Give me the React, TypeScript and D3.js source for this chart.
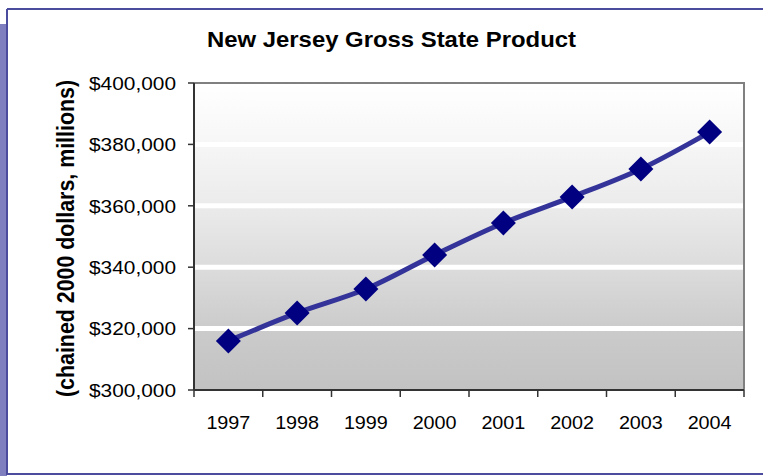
import React from "react";
import * as d3 from "d3";

const years = ["1997", "1998", "1999", "2000", "2001", "2002", "2003", "2004"];
const gsp = [316000, 325100, 332900, 344000, 354400, 362900, 372000, 384000];
const yTicks = [300000, 320000, 340000, 360000, 380000, 400000];
const gridValues = [320000, 340000, 360000, 380000];
const title = "New Jersey Gross State Product";
const yLabel = "(chained 2000 dollars, millions)";

export default function App() {
  const W = 763, H = 476;
  const left = 194, right = 744, top = 83, bottom = 390;
  const x = d3.scaleBand<string>().domain(years).range([left, right]);
  const y = d3.scaleLinear().domain([300000, 400000]).range([bottom, top]);
  const fmt = (v: number) => "$" + d3.format(",")(v);
  const pts = years.map((yr, i) => [x(yr)! + x.bandwidth() / 2, y(gsp[i])] as [number, number]);
  const line = d3.line().curve(d3.curveCatmullRom.alpha(0.5))(pts) || "";
  const font = "'Liberation Sans', Arimo, sans-serif";
  const boundaries = years.map((yr) => x(yr)!).concat([right]);

  return (
    <svg width={W} height={H} style={{ position: "absolute", left: 0, top: 0 }} fontFamily={font}>
      <defs>
        <linearGradient id="bg" x1="0" y1="0" x2="0" y2="1">
          <stop offset="0" stopColor="#ffffff" />
          <stop offset="0.2" stopColor="#f6f6f6" />
          <stop offset="0.4" stopColor="#ebebeb" />
          <stop offset="0.6" stopColor="#dcdcdc" />
          <stop offset="0.8" stopColor="#cbcbcb" />
          <stop offset="1" stopColor="#c2c2c2" />
        </linearGradient>
      </defs>
      <rect x={0} y={0} width={W} height={H} fill="#ffffff" />
      <rect x={0} y={24} width={7} height={H - 24} fill="#7f7fbf" />
      <path d={`M7,9 H${W} M7,9 V474 H${W}`} fill="none" stroke="#4c4c9e" strokeWidth={2} />

      <text x={207} y={47} fontSize={22} fontWeight="bold" textLength={369} lengthAdjust="spacingAndGlyphs" fill="#000">{title}</text>

      <rect x={left} y={top} width={right - left} height={bottom - top} fill="url(#bg)" />
      {gridValues.map((v) => (
        <line key={v} x1={left} x2={right} y1={y(v)} y2={y(v)} stroke="#ffffff" strokeWidth={5} />
      ))}
      <path d={`M${left},${top} H${right} V${bottom}`} fill="none" stroke="#808080" strokeWidth={2} />
      <line x1={left} x2={left} y1={top} y2={bottom} stroke="#333333" strokeWidth={2} />
      <line x1={left} x2={right} y1={bottom} y2={bottom} stroke="#333333" strokeWidth={2} />
      {yTicks.map((v) => (
        <g key={v}>
          <line x1={left - 6} x2={left} y1={y(v)} y2={y(v)} stroke="#333333" strokeWidth={1.5} />
          <text x={176} y={y(v) + 6.8} fontSize={19} textAnchor="end" textLength={87} lengthAdjust="spacingAndGlyphs" fill="#000">{fmt(v)}</text>
        </g>
      ))}
      {boundaries.map((bx, i) => (
        <line key={i} x1={bx} x2={bx} y1={bottom} y2={bottom + 7} stroke="#333333" strokeWidth={1.5} />
      ))}
      {years.map((yr) => (
        <text key={yr} x={x(yr)! + x.bandwidth() / 2} y={429} fontSize={19} textAnchor="middle" textLength={44} lengthAdjust="spacingAndGlyphs" fill="#000">{yr}</text>
      ))}

      <text transform="translate(66,238.5) scale(1.15,1) rotate(-90)" fontSize={21} fontWeight="bold" textAnchor="middle" dominantBaseline="central" textLength={317} lengthAdjust="spacingAndGlyphs" fill="#000">{yLabel}</text>

      <path d={line} fill="none" stroke="#333399" strokeWidth={5} />
      {pts.map(([px, py], i) => (
        <path key={i} d={`M${px},${py - 12.5} L${px + 12.5},${py} L${px},${py + 12.5} L${px - 12.5},${py} Z`} fill="#000080" />
      ))}
    </svg>
  );
}
